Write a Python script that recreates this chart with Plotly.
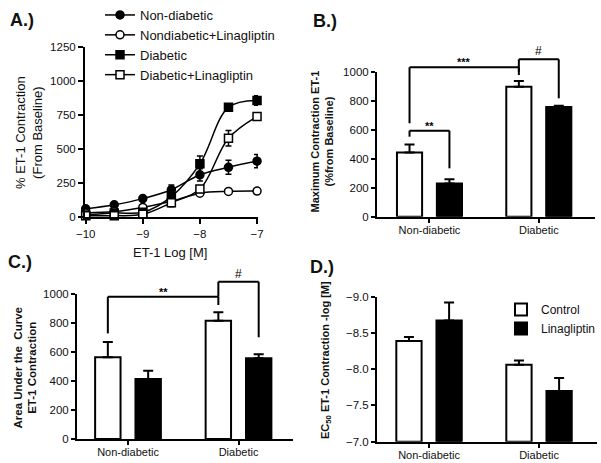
import plotly.graph_objects as go

# ---------------- data ----------------
# Panel A: concentration-response (mean, SEM)
log_conc = [-10, -9.5, -9, -8.5, -8, -7.5, -7]
nd = [60, 90, 135, 200, 310, 365, 410]
nd_err = [15, 15, 15, 35, 45, 52, 48]
ndl = [30, 40, 70, 115, 175, 188, 190]
ndl_err = [10, 10, 12, 20, 15, 10, 10]
dia = [15, 30, 35, 150, 390, 805, 855]
dia_err = [10, 10, 10, 40, 58, 25, 35]
dial = [10, 10, 20, 105, 205, 578, 738]
dial_err = [5, 5, 8, 30, 25, 57, 15]
a_xticks = [-10, -9, -8, -7]
a_yticks = [0, 250, 500, 750, 1000, 1250]

groups = ["Non-diabetic", "Diabetic"]
# Panel B: maximum contraction
max_ctrl = [445, 900]
max_ctrl_err = [55, 40]
max_lina = [230, 760]
max_lina_err = [30, 8]
# Panel C: area under the curve
auc_ctrl = [565, 818]
auc_ctrl_err = [105, 58]
auc_lina = [415, 558]
auc_lina_err = [57, 27]
# Panel D: EC50 (-log M)
ec50_ctrl = [-8.39, -8.06]
ec50_ctrl_err = [0.055, 0.06]
ec50_lina = [-8.67, -7.70]
ec50_lina_err = [0.25, 0.18]
bar_yticks = [0, 200, 400, 600, 800, 1000]
ec50_yticks = [-9.0, -8.5, -8.0, -7.5, -7.0]

# ---------------- layout constants ----------------
W, H = 601, 463
FONT = "Arial, Liberation Sans, sans-serif"
BARGAP = 0.27
BARGROUPGAP = 0.37
OFF = (1 - BARGAP) / 4  # offset of each bar from category centre
EC50_BASE = -7.0

def px_x(p):
    return p / W

def px_y(p):
    return 1 - p / H

A_XR = [-10.012, -6.983]
A_YR = [0, 1250]
B_XR = [-0.48, 1.514]
B_YR = [0, 1000]
C_XR = [-0.4615, 1.493]
C_YR = [0, 1000]
D_XR = [-0.473, 1.527]
D_YR = [-7.0, -9.0]

fig = go.Figure()

# ---------------- Panel A ----------------
series = [
    ("Non-diabetic", nd, nd_err, "circle", "black"),
    ("Nondiabetic+Linagliptin", ndl, ndl_err, "circle", "white"),
    ("Diabetic", dia, dia_err, "square", "black"),
    ("Diabetic+Linagliptin", dial, dial_err, "square", "white"),
]
for name, vals, errs, sym, fill in series:
    fig.add_trace(go.Scatter(
        x=log_conc, y=vals, name=name, mode="lines+markers",
        line=dict(color="black", width=1.5, shape="spline", smoothing=1.0),
        marker=dict(symbol=sym, size=8, color=fill, line=dict(color="black", width=1.5)),
        error_y=dict(type="data", array=errs, symmetric=True, color="black", thickness=1.5, width=3),
        cliponaxis=False, xaxis="x", yaxis="y", legend="legend",
    ))

# ---------------- Bar panels ----------------
def add_bars(ctrl, ctrl_err, lina, lina_err, xa, ya, show):
    fig.add_trace(go.Bar(
        x=groups, y=ctrl, name="Control",
        marker=dict(color="white", line=dict(color="black", width=2)),
        error_y=dict(type="data", array=ctrl_err, arrayminus=[0] * len(ctrl_err), symmetric=False,
                     color="black", thickness=2, width=5),
        xaxis=xa, yaxis=ya, showlegend=show, legend="legend2",
    ))
    fig.add_trace(go.Bar(
        x=groups, y=lina, name="Linagliptin",
        marker=dict(color="black", line=dict(color="black", width=2)),
        error_y=dict(type="data", array=lina_err, arrayminus=[0] * len(lina_err), symmetric=False,
                     color="black", thickness=2, width=5),
        xaxis=xa, yaxis=ya, showlegend=show, legend="legend2",
    ))

add_bars(max_ctrl, max_ctrl_err, max_lina, max_lina_err, "x2", "y2", False)
add_bars(auc_ctrl, auc_ctrl_err, auc_lina, auc_lina_err, "x3", "y3", False)

# Panel D: bars rise from -7.0 toward more negative values (reversed axis)
for name, vals, errs, fill in [("Control", ec50_ctrl, ec50_ctrl_err, "white"),
                               ("Linagliptin", ec50_lina, ec50_lina_err, "black")]:
    fig.add_trace(go.Bar(
        x=groups, y=[v - EC50_BASE for v in vals], base=EC50_BASE, name=name,
        marker=dict(color=fill, line=dict(color="black", width=2)),
        error_y=dict(type="data", array=[0] * len(errs), arrayminus=errs, symmetric=False,
                     color="black", thickness=2, width=5),
        xaxis="x4", yaxis="y4", showlegend=True, legend="legend2",
    ))

# ---------------- axes ----------------
axis_common = dict(showline=True, linecolor="black", linewidth=2, ticks="outside",
                   tickcolor="black", tickwidth=2, showgrid=False, zeroline=False,
                   color="#111", fixedrange=True, automargin=False)
cat_axis = dict(ticklen=4, type="category", tickfont=dict(size=11), ticklabelstandoff=-2)

fig.update_layout(
    xaxis=dict(domain=[px_x(85), px_x(258)], range=A_XR, tickvals=a_xticks, ticklen=5,
               tickfont=dict(size=11.5), anchor="y", **axis_common),
    yaxis=dict(domain=[px_y(217), px_y(46.7)], range=A_YR, tickvals=a_yticks, ticklen=5,
               tickfont=dict(size=11.5), anchor="x", **axis_common),
    xaxis2=dict(domain=[px_x(377), px_x(595)], range=B_XR, anchor="y2", **cat_axis, **axis_common),
    yaxis2=dict(domain=[px_y(216.7), px_y(72.3)], range=B_YR, tickvals=bar_yticks, ticklen=4,
                tickfont=dict(size=11.5), anchor="x2", **axis_common),
    xaxis3=dict(domain=[px_x(77), px_x(293)], range=C_XR, anchor="y3", **cat_axis, **axis_common),
    yaxis3=dict(domain=[px_y(439), px_y(294.3)], range=C_YR, tickvals=bar_yticks, ticklen=4,
                tickfont=dict(size=11.5), anchor="x3", **axis_common),
    xaxis4=dict(domain=[px_x(377), px_x(597)], range=D_XR, anchor="y4", **cat_axis, **axis_common),
    yaxis4=dict(domain=[px_y(441.7), px_y(296.7)], range=D_YR, tickvals=ec50_yticks,
                tickformat=".1f", ticklen=4, tickfont=dict(size=11.5), anchor="x4", **axis_common),
)

# ---------------- significance brackets ----------------
def dom(v, rng):
    return (v - rng[0]) / (rng[1] - rng[0])

b_brackets = [  # x_left, x_right, y_top, y_left_end, y_right_end, label
    (0 - OFF, 1 - OFF, 1035, 647, 981, "***"),
    (1 - OFF, 1 + OFF, 1090, 1004, 820, "#"),
    (0 - OFF, 0 + OFF, 596, 554, 335, "**"),
]
c_brackets = [
    (0 - OFF, 1 - OFF, 983, 730, 926, "**"),
    (1 - OFF, 1 + OFF, 1087, 983, 703, "#"),
]

shapes = []
annotations = []
for brs, xa, ya, xr, yr in [(b_brackets, "x2", "y2", B_XR, B_YR), (c_brackets, "x3", "y3", C_XR, C_YR)]:
    for xl, xrt, yt, yl, yre, lab in brs:
        segs = [(xl, yl, xl, yt), (xl, yt, xrt, yt), (xrt, yt, xrt, yre)]
        for x0, y0, x1, y1 in segs:
            shapes.append(dict(type="line", xref=xa + " domain", yref=ya + " domain",
                               x0=dom(x0, xr), y0=dom(y0, yr), x1=dom(x1, xr), y1=dom(y1, yr),
                               line=dict(color="black", width=2)))
        is_hash = lab == "#"
        annotations.append(dict(text=lab if is_hash else "<b>%s</b>" % lab,
                                xref=xa + " domain", yref=ya + " domain",
                                x=dom((xl + xrt) / 2, xr), y=dom(yt, yr), xanchor="center",
                                yanchor="bottom", yshift=-1 if is_hash else -3, showarrow=False,
                                font=dict(size=12 if is_hash else 11, family=FONT, color="black")))

# ---------------- titles / panel labels ----------------
def label(text, x, y, size, bold=False, angle=0):
    t = "<b>%s</b>" % text if bold else text
    annotations.append(dict(text=t, xref="paper", yref="paper", x=px_x(x), y=px_y(y),
                            xanchor="center", yanchor="middle", showarrow=False, textangle=angle,
                            font=dict(size=size, family=FONT, color="#111")))

label("A.)", 22, 20, 18, bold=True)
label("B.)", 325, 21, 18, bold=True)
label("C.)", 20, 262, 18, bold=True)
label("D.)", 322, 267, 18, bold=True)

label("% ET-1 Contraction<br>(From Baseline)", 29, 133, 13, angle=-90)
label("ET-1 Log [M]", 170, 252, 13)
label("Maximum Contraction ET-1<br>(%from Baseline)", 322, 141.5, 11, bold=True, angle=-90)
label("Area Under the  Curve<br>ET-1 Contraction", 24.5, 368, 11.5, bold=True, angle=-90)
label("EC<sub>50</sub> ET-1 Contraction -log [M]", 326, 360, 11, bold=True, angle=-90)

fig.update_layout(
    width=W, height=H, margin=dict(l=0, r=0, t=0, b=0, autoexpand=False),
    paper_bgcolor="white", plot_bgcolor="white",
    font=dict(family=FONT, color="#111"),
    barmode="group", bargap=BARGAP, bargroupgap=BARGROUPGAP,
    shapes=shapes, annotations=annotations,
    legend=dict(x=px_x(100), y=1, xanchor="left", yanchor="top",
                bgcolor="rgba(0,0,0,0)", font=dict(size=13, family=FONT, color="#111"),
                itemclick=False, itemdoubleclick=False),
    legend2=dict(x=1, y=px_y(295), xanchor="right", yanchor="top",
                 bgcolor="rgba(0,0,0,0)", font=dict(size=12, family=FONT, color="#111"),
                 itemclick=False, itemdoubleclick=False),
)

fig.write_html("out.html", config={"displayModeBar": False},
               post_script="document.body.style.margin='0';document.body.style.overflow='hidden';")
